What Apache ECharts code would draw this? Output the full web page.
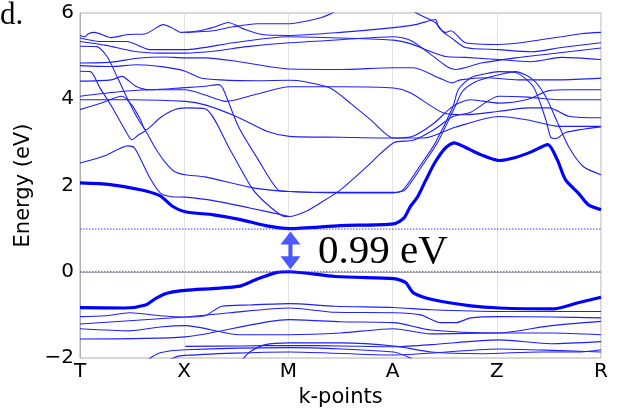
<!DOCTYPE html>
<html><head><meta charset="utf-8">
<script src="https://cdn.jsdelivr.net/npm/echarts@6/dist/echarts.min.js"></script>
<style>html,body{margin:0;padding:0;background:#fff}#c{width:618px;height:414px}</style>
</head><body><div id="c"></div>
<script>
// k-path labels (T, X, M, A, Z, R at k = 0..5)
const kLabels = ['T','X','M','A','Z','R'];
const yTicks = [-2, 0, 2, 4, 6];
const gapValue = 0.99;   // CBM at M
const vbmValue = 0.0;    // VBM at M
const arrowK = 2.02;
const arrowTop = 0.935;
const arrowBottom = 0.06;

// thick band edges [k, E(eV)]
const cbThick = [[0,2.06],[0.29,2.02],[0.58,1.9],[0.77,1.76],[0.88,1.53],[1.01,1.39],[1.28,1.32],[1.54,1.21],[1.78,1.07],[2.01,1.0],[2.5,1.07],[3.01,1.11],[3.11,1.25],[3.17,1.51],[3.24,1.74],[3.32,2.13],[3.41,2.55],[3.51,2.88],[3.59,2.99],[3.7,2.88],[3.85,2.71],[4.02,2.58],[4.18,2.65],[4.33,2.78],[4.49,2.95],[4.58,2.6],[4.66,2.13],[4.78,1.83],[4.88,1.55],[5,1.44]];
const vbThick = [[0,-0.83],[0.43,-0.84],[0.63,-0.77],[0.72,-0.63],[0.82,-0.51],[0.91,-0.46],[1.01,-0.43],[1.52,-0.34],[1.68,-0.19],[1.88,-0.02],[2.01,0],[2.45,-0.11],[3.01,-0.16],[3.08,-0.2],[3.13,-0.26],[3.2,-0.49],[3.39,-0.65],[3.75,-0.79],[4.02,-0.84],[4.55,-0.86],[4.78,-0.72],[5,-0.59]];

// thin conduction bands
const cBand1 = [[0,5.48],[0.05,5.45],[0.08,5.52],[0.14,5.55],[0.3,5.43],[0.46,5.5],[0.63,5.52],[0.8,5.73],[0.88,5.66],[0.97,5.55],[1.15,5.59],[1.3,5.68],[1.42,5.78],[1.59,5.61],[1.75,5.5],[2.01,5.48],[2.5,5.55],[3.01,5.66],[3.22,5.73],[3.41,5.85],[3.44,5.68],[3.51,5.55],[3.56,5.59],[3.7,5.31],[4.02,5.27],[4.23,5.31],[4.42,5.38],[4.62,5.45],[4.81,5.52],[5,5.55]];
const cBand2 = [[1.01,5.55],[1.28,5.59],[1.47,5.68],[1.7,5.75],[1.99,5.75],[2.31,5.89],[2.43,6.01],[2.55,6.15]];
const cBand3 = [[3.13,6.19],[3.22,6.01],[3.41,5.78],[3.48,5.57],[3.56,5.43],[3.7,5.2],[4.02,5.15],[4.33,5.1],[4.62,5.2],[5,5.31]];
const cBand4 = [[0,5.42],[0.19,5.34],[0.45,5.34],[0.67,5.15],[1.01,5.15],[1.47,5.31],[1.99,5.45],[2.5,5.42],[3.01,5.37],[3.17,5.29],[3.37,5.1],[3.51,4.99],[3.7,4.97],[4.02,4.92],[4.33,4.87],[4.62,4.97],[5,4.92]];
const cBand5 = [[0,5.34],[0.25,5.25],[0.5,5.12],[0.75,5.07],[1.01,5.07],[1.3,5.12],[1.6,5.22],[2.01,5.31],[2.5,5.38],[3.01,5.45],[3.17,5.37],[3.35,5.07],[3.52,4.76],[3.6,4.69],[3.85,4.84],[4.18,4.96],[4.5,5.05],[5,5.19]];
const cBand6 = [[0,4.84],[0.3,4.86],[0.55,4.95],[0.8,4.98],[1.01,4.96],[1.2,4.96],[1.5,4.88],[1.8,4.76],[2.01,4.7],[2.5,4.69],[3.01,4.73],[3.2,4.73],[3.45,4.49],[3.57,4.38],[3.65,4.45],[3.9,4.5],[4.2,4.45],[4.6,4.45],[5,4.49]];
const cBand7 = [[0,4.78],[0.3,4.76],[0.55,4.8],[0.8,4.75],[1.01,4.65],[1.15,4.5],[1.35,4.45],[1.7,4.43],[2.01,4.44],[2.1,4.43],[2.4,4.26],[2.6,3.9],[2.8,3.5],[3.01,3.1],[3.3,3.1],[3.6,3.35],[4.02,3.6],[4.3,3.52],[4.6,3.37],[5,3.37]];
const cBand8 = [[0,4.42],[0.3,4.45],[0.4,4.53],[0.53,4.31],[0.67,4.22],[1.01,4.27],[1.2,4.3],[1.33,4.34],[1.37,4.26],[1.52,3.37],[1.71,2.6],[1.9,1.9],[2.01,1.86],[2.5,1.84],[3.01,1.84],[3.1,1.9],[3.27,2.48],[3.41,2.99],[3.58,3.83],[3.63,4.22],[3.75,4.5],[3.89,4.59],[4.02,4.64],[4.18,4.62],[4.35,4.29],[4.47,3.53],[4.52,3.11],[4.57,3.09],[4.66,3.23],[5,3.36]];
const cBand9 = [[0,4.07],[0.4,4.18],[0.67,4.22],[1.01,4.22],[1.2,4.1],[1.4,3.95],[1.7,4.12],[2.01,4.29],[2.5,4.29],[3.01,4.26],[3.17,4.15],[3.49,3.68],[3.7,3.64],[4.02,3.72],[4.3,3.8],[4.5,3.8],[4.7,3.6],[5,3.57]];
const cBand10 = [[0,3.99],[0.5,3.99],[1.01,3.95],[1.2,3.87],[1.5,3.6],[1.8,3.25],[2.01,3.14],[2.5,3.12],[3.01,3.1],[3.2,3.15],[3.4,3.45],[3.58,3.84],[3.75,3.99],[4.02,3.91],[4.3,4.0],[4.5,4.2],[4.7,4.22],[5,4.22]];
const cBand11 = [[0,3.76],[0.19,3.9],[0.4,4.07],[0.5,3.86],[0.58,3.53],[0.63,3.29],[0.77,3.57],[0.91,3.76],[1.01,3.8],[1.2,3.78],[1.44,2.83],[1.65,1.94],[1.78,1.6],[1.94,1.3],[2.01,1.28],[2.16,1.39],[2.31,1.6],[2.5,1.9],[2.74,2.41],[3.01,2.99],[3.2,3.05],[3.4,3.3],[3.58,3.6],[3.75,3.7],[4.02,4.07],[4.3,4.05],[4.6,3.99],[5,3.99]];
const cBand12 = [[0,4.65],[0.1,4.64],[0.19,4.27],[0.31,3.81],[0.42,3.34],[0.5,3.06],[0.56,3.17],[0.63,3.27]];
const cBand13 = [[0,2.52],[0.24,2.69],[0.46,2.92],[0.52,2.88],[0.58,2.62],[0.67,2.18],[0.77,1.83],[0.88,1.74],[1.01,1.73],[1.28,1.65],[1.63,1.48],[2.01,1.28]];
const cBand14 = [[0,5.23],[0.16,5.22],[0.26,4.99],[0.37,4.45],[0.46,3.99],[0.56,3.53],[0.63,3.27],[0.72,2.88],[0.82,2.53],[0.91,2.32],[1.01,2.25],[1.2,2.2],[1.65,1.95],[2.01,1.86],[2.5,1.83],[3.01,1.83],[3.12,1.9],[3.29,2.48],[3.43,2.99],[3.6,3.83],[3.67,4.18],[3.8,4.41],[3.94,4.52],[4.02,4.57],[4.18,4.64],[4.35,4.45],[4.47,4.06],[4.57,3.53],[4.69,2.9],[4.83,2.44],[5,2.25]];

// thin valence bands
const vBand1 = [[0,-1.04],[0.24,-1.02],[0.48,-0.95],[0.77,-1.02],[1.01,-1.05],[1.2,-1.02],[1.36,-0.8],[1.63,-0.77],[2.01,-0.74],[2.45,-0.8],[3.01,-0.83],[3.37,-0.88],[4.02,-0.92],[4.52,-0.92],[5,-0.92]];
const vBand2 = [[0,-1.21],[1.01,-1.05],[1.44,-0.95],[2.01,-0.84],[2.45,-0.94],[3.01,-0.95],[3.27,-1.0],[3.46,-1.18],[3.61,-1.18],[3.75,-1.07],[4.02,-1.04],[4.52,-1.05],[5,-1.07]];
const vBand3 = [[0,-1.32],[0.48,-1.37],[0.77,-1.28],[1.01,-1.25],[1.54,-1.46],[2.01,-1.46],[2.5,-1.42],[3.01,-1.32],[3.37,-1.44],[4.02,-1.42],[4.52,-1.42],[5,-1.46]];
const vBand4 = [[0,-1.56],[1.01,-1.51],[2.01,-1.11],[2.5,-1.16],[3.01,-1.18],[3.37,-1.35],[4.02,-1.42],[4.52,-1.25],[5,-1.15]];
const vBand5 = [[1.01,-1.73],[1.54,-1.72],[2.01,-1.71],[2.5,-1.72],[3.01,-1.74],[3.37,-1.69],[4.02,-1.58],[4.52,-1.67],[5,-1.62]];
const vBand6 = [[0.65,-2.04],[0.77,-1.88],[1.01,-1.81],[2.01,-1.76],[3.01,-1.86],[3.17,-2.0],[3.22,-2.09]];
const vBand7 = [[0.82,-2.09],[0.96,-1.95],[2.01,-1.86],[3.01,-1.93],[4.02,-1.79],[4.62,-1.83],[5,-1.86]];
const vBand8 = [[1.54,-2.09],[1.63,-1.86],[1.78,-1.69],[2.01,-1.65],[2.5,-1.65],[3.01,-1.72],[3.37,-1.86],[3.85,-1.9],[4.42,-1.86],[4.81,-1.86],[5,-1.81]];

const thinBands = [cBand1,cBand2,cBand3,cBand4,cBand5,cBand6,cBand7,cBand8,cBand9,cBand10,cBand11,cBand12,cBand13,cBand14,
                   vBand1,vBand2,vBand3,vBand4,vBand5,vBand6,vBand7,vBand8];

const BLUE = 'rgb(30,30,255)';
const ARROW = '#4a5aff';
const series = [];
thinBands.forEach(b => series.push({type:'line', data:b, showSymbol:false, smooth:0.25, silent:true,
  lineStyle:{color:BLUE, width:1.1}}));
[cbThick, vbThick].forEach(b => series.push({type:'line', data:b, showSymbol:false, smooth:0.25, silent:true,
  lineStyle:{color:'#0000ff', width:3.2}}));
[gapValue, vbmValue].forEach(v => series.push({type:'line', data:[[0,v],[5,v]], showSymbol:false, silent:true,
  lineStyle:{color:'#3a3aff', width:1, type:[1.5,1.5]}}));
// double arrow marking the gap at M
series.push({type:'custom', silent:true, data:[[arrowK, arrowTop, arrowBottom]],
  renderItem:(params, api) => {
    const t = api.coord([api.value(0), api.value(1)]);
    const b = api.coord([api.value(0), api.value(2)]);
    const x = t[0], hw = 10, hh = 13, sw = 2;
    return {type:'group', children:[
      {type:'polygon', shape:{points:[[x,t[1]],[x-hw,t[1]+hh],[x+hw,t[1]+hh]]}, style:{fill:ARROW}},
      {type:'polygon', shape:{points:[[x,b[1]],[x-hw,b[1]-hh],[x+hw,b[1]-hh]]}, style:{fill:ARROW}},
      {type:'rect', shape:{x:x-sw, y:t[1]+hh-1, width:2*sw, height:b[1]-t[1]-2*hh+2}, style:{fill:ARROW}}
    ]};
  }});

const chart = echarts.init(document.getElementById('c'), null, {renderer:'canvas'});
chart.setOption({
  animation:false,
  grid:{left:80, right:17, top:13, bottom:56, show:true, borderColor:'#b0b0b0', borderWidth:1,
        containLabel:false, outerBoundsMode:'none'},
  xAxis:{type:'value', min:0, max:5, interval:1,
    name:'k-points', nameLocation:'middle', nameGap:28,
    nameTextStyle:{fontFamily:'DejaVu Sans', fontSize:21, color:'#000'},
    axisLine:{show:true, lineStyle:{color:'#b0b0b0'}}, axisTick:{show:false},
    axisLabel:{fontFamily:'DejaVu Sans', fontSize:20, color:'#000', margin:4,
      formatter:v => kLabels[Math.round(v)]},
    splitLine:{show:true, lineStyle:{color:'#e2e2e2', width:1}}},
  yAxis:{type:'value', min:-2, max:6, interval:2,
    name:'Energy (eV)', nameLocation:'middle', nameGap:41,
    nameTextStyle:{fontFamily:'DejaVu Sans', fontSize:21, color:'#000'},
    axisLine:{show:true, lineStyle:{color:'#b0b0b0'}}, axisTick:{show:false},
    axisLabel:{fontFamily:'DejaVu Sans', fontSize:20, color:'#000', margin:6,
      formatter:v => v < 0 ? '\u2212' + Math.abs(v) : String(v)},
    splitLine:{show:false}},
  graphic:[
    {type:'text', left:0, top:0, style:{text:'d.', font:'31px "Liberation Serif"', fill:'#000'}},
    {type:'text', left:318, top:232, style:{text:gapValue.toFixed(2)+' eV', font:'41px "Liberation Serif"', fill:'#000'}}
  ],
  series:series
});
</script></body></html>
